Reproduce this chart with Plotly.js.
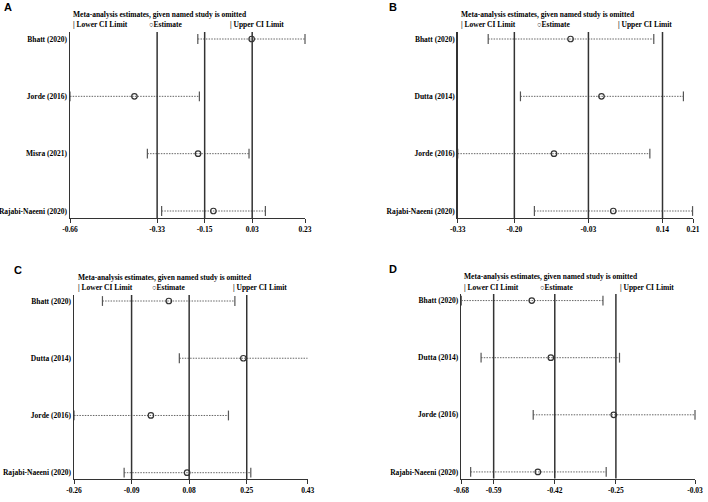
<!DOCTYPE html>
<html><head><meta charset="utf-8">
<script src="https://cdn.plot.ly/plotly-3.0.1.min.js"></script>
<style>html,body{margin:0;padding:0;background:#fff}#chart{width:708px;height:502px}</style>
</head><body><div id="chart"></div>
<script>
// ---- Data ----
const studiesA = ["Bhatt (2020)", "Jorde (2016)", "Misra (2021)", "Rajabi-Naeeni (2020)"];
const lowerA = [-0.176, -0.66, -0.367, -0.313];
const estA   = [0.028, -0.416, -0.175, -0.117];
const upperA = [0.23, -0.17, 0.018, 0.08];
const refA   = [-0.33, -0.15, 0.03];
const ticksA = [-0.66, -0.33, -0.15, 0.03, 0.23];

const studiesB = ["Bhatt (2020)", "Dutta (2014)", "Jorde (2016)", "Rajabi-Naeeni (2020)"];
const lowerB = [-0.260, -0.186, -0.33, -0.154];
const estB   = [-0.071, 0.0, -0.109, 0.027];
const upperB = [0.120, 0.188, 0.111, 0.209];
const refB   = [-0.20, -0.03, 0.14];
const ticksB = [-0.33, -0.20, -0.03, 0.14, 0.21];

const studiesC = ["Bhatt (2020)", "Dutta (2014)", "Jorde (2016)", "Rajabi-Naeeni (2020)"];
const lowerC = [-0.176, 0.051, -0.26, -0.112];
const estC   = [0.020, 0.240, -0.033, 0.074];
const upperC = [0.215, 0.432, 0.196, 0.262];
const refC   = [-0.09, 0.08, 0.25];
const ticksC = [-0.26, -0.09, 0.08, 0.25, 0.43];

const studiesD = ["Bhatt (2020)", "Dutta (2014)", "Jorde (2016)", "Rajabi-Naeeni (2020)"];
const lowerD = [-0.68, -0.625, -0.480, -0.654];
const estD   = [-0.484, -0.431, -0.256, -0.467];
const upperD = [-0.286, -0.240, -0.03, -0.277];
const refD   = [-0.59, -0.42, -0.25];
const ticksD = [-0.68, -0.59, -0.42, -0.25, -0.03];

const titleText = "Meta-analysis estimates, given named study is omitted";
const legLower = "| Lower CI Limit", legEst = "\u25CBEstimate", legUpper = "| Upper CI Limit";

// ---- Layout helpers ----
const W = 708, H = 502;
const px = x => x / W, py = y => 1 - y / H;
const SERIF = "Liberation Serif, Times New Roman, serif";
const panels = [
  {id:"A", s:studiesA, lo:lowerA, est:estA, up:upperA, ref:refA, ticks:ticksA, xd:[70,305], yd:[32,218], yr:[0.878,4.122],
   letter:[2,7], title:[71,15], leg:[[71,25],[147,25],[228,25]], },
  {id:"B", s:studiesB, lo:lowerB, est:estB, up:upperB, ref:refB, ticks:ticksB, xd:[457.7,693], yd:[32,218], yr:[0.878,4.122],
   letter:[387,7], title:[459,15], leg:[[459,25],[535,25],[616,25]]},
  {id:"C", s:studiesC, lo:lowerC, est:estC, up:upperC, ref:refC, ticks:ticksC, xd:[74,307.7], yd:[295,479], yr:[0.89,4.105],
   letter:[12,270], title:[76,277], leg:[[76,287],[150,287],[231,287]]},
  {id:"D", s:studiesD, lo:lowerD, est:estD, up:upperD, ref:refD, ticks:ticksD, xd:[461.3,695], yd:[294,478.5], yr:[0.885,4.115],
   letter:[387,269], title:[462,276], leg:[[462,287],[538,287],[618,287]]},
];

const traces = [], shapes = [], annotations = [];
const layout = {width:W, height:H, margin:{l:0,r:0,t:0,b:0}, showlegend:false,
  paper_bgcolor:"#fff", plot_bgcolor:"#fff", shapes, annotations};

panels.forEach((p, i) => {
  const n = i + 1, xa = "x" + (n === 1 ? "" : n), ya = "y" + (n === 1 ? "" : n);
  const xk = "xaxis" + (n === 1 ? "" : n), yk = "yaxis" + (n === 1 ? "" : n);
  const rows = p.s.map((_, k) => p.s.length - k);
  // CI dotted lines
  const lx = [], ly = [];
  p.s.forEach((_, k) => { lx.push(p.lo[k], p.up[k], null); ly.push(rows[k], rows[k], null); });
  traces.push({type:"scatter", mode:"lines", x:lx, y:ly, xaxis:xa, yaxis:ya,
    line:{color:"#666", width:1, dash:"1.5px,1.2px"}, hoverinfo:"skip", cliponaxis:false});
  // caps
  traces.push({type:"scatter", mode:"markers", x:p.lo.concat(p.up), y:rows.concat(rows), xaxis:xa, yaxis:ya,
    marker:{symbol:"line-ns-open", size:7, color:"#555", line:{color:"#555", width:1.2}}, cliponaxis:false});
  // estimates
  traces.push({type:"scatter", mode:"markers", x:p.est, y:rows, xaxis:xa, yaxis:ya,
    marker:{symbol:"circle-open", size:5.5, color:"#333", line:{color:"#333", width:1.2}}, cliponaxis:false});
  layout[xk] = {domain:[px(p.xd[0]), px(p.xd[1])], range:[p.ticks[0], p.ticks[p.ticks.length-1]], anchor:ya,
    tickvals:p.ticks, ticktext:p.ticks.map(v => v.toFixed(2)), ticks:"outside", ticklen:4, tickwidth:1, tickcolor:"#333",
    showline:true, linecolor:"#333", linewidth:1.2, showgrid:false, zeroline:false, fixedrange:true,
    tickfont:{family:SERIF, size:7.5, color:"#000", weight:"bold"}};
  layout[yk] = {domain:[py(p.yd[1]), py(p.yd[0])], range:p.yr, anchor:xa, tickvals:rows, ticktext:p.s,
    ticks:"", showline:true, linecolor:"#333", linewidth:1.5, showgrid:false, zeroline:false, fixedrange:true,
    tickfont:{family:SERIF, size:7.5, color:"#000", weight:"bold"}};
  p.ref.forEach(v => shapes.push({type:"line", xref:xa, yref:ya + " domain", x0:v, x1:v, y0:0, y1:1,
    line:{color:"#333", width:1.5}}));
  annotations.push({text:p.id, xref:"paper", yref:"paper", x:px(p.letter[0]), y:py(p.letter[1]), xanchor:"left", yanchor:"middle",
    showarrow:false, font:{family:"Liberation Sans, Arial, sans-serif", size:11, color:"#000", weight:"bold"}});
  annotations.push({text:titleText, xref:"paper", yref:"paper", x:px(p.title[0]), y:py(p.title[1]), xanchor:"left", yanchor:"middle",
    showarrow:false, font:{family:SERIF, size:7.5, color:"#000", weight:"bold"}});
  [legLower, legEst, legUpper].forEach((t, k) => annotations.push({text:t, xref:"paper", yref:"paper",
    x:px(p.leg[k][0]), y:py(p.leg[k][1]), xanchor:"left", yanchor:"middle", showarrow:false,
    font:{family:SERIF, size:7.5, color:"#000", weight:"bold"}}));
});

Plotly.newPlot("chart", traces, layout, {displayModeBar:false, staticPlot:true});
</script></body></html>
